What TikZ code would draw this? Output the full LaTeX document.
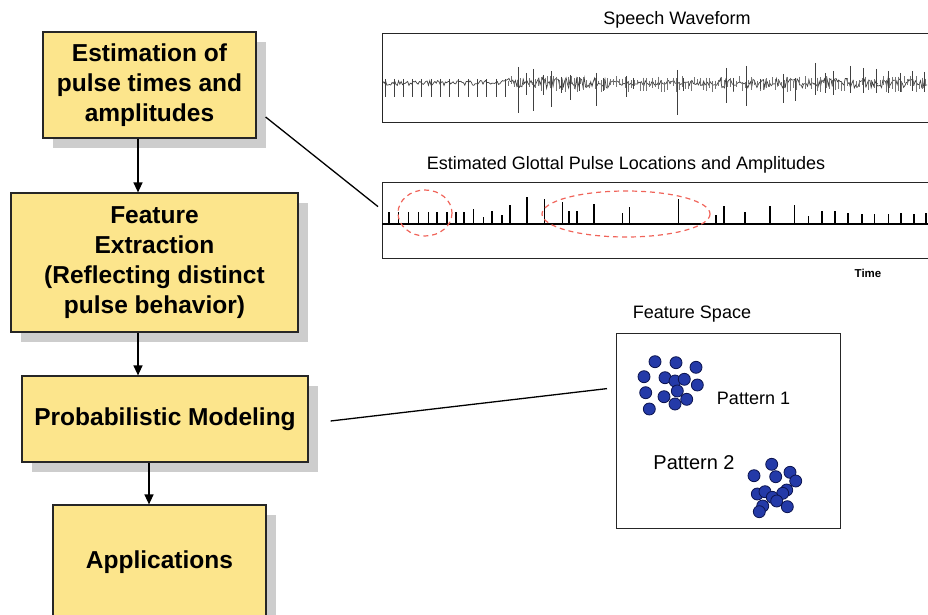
\documentclass[tikz,border=0pt]{standalone}
\usepackage{fontspec}
\setmainfont{Liberation Sans}
\usetikzlibrary{arrows.meta,shadows}

\definecolor{kastengelb}{RGB}{252,229,140}
\definecolor{schatten}{RGB}{205,205,205}
\definecolor{punktblau}{RGB}{36,58,168}
\definecolor{punktrand}{RGB}{12,20,80}
\definecolor{ovalrot}{RGB}{240,100,90}

\begin{document}
\begin{tikzpicture}[x=1pt,y=-1pt,
	kasten/.style={draw=black!85,fill=kastengelb,line width=1.2pt,align=center,inner sep=0pt,
		font=\fontsize{24.5}{30}\selectfont\bfseries,
		drop shadow={shadow xshift=10pt,shadow yshift=-10pt,fill=schatten,opacity=1}},
	rahmen/.style={draw=black!85,line width=1.2pt,inner sep=0pt},
	titel/.style={font=\fontsize{18}{20}\selectfont,inner sep=0pt},
	pfeil/.style={line width=1.3pt,-{Triangle[length=10pt,width=9pt]}},
	linie/.style={line width=1.3pt},
	welle/.style={black!75,line width=0.7pt},
	oval/.style={ovalrot,line width=1.2pt,dash pattern=on 5pt off 4pt},
	punkt/.style={fill=punktblau,draw=punktrand,line width=0.8pt}]

	\useasboundingbox (0,0) rectangle (928,615);

	%Kaesten links
	\node[kasten,minimum width=213pt,minimum height=106pt] (schaetzung) at (149.5,85) {Estimation of\\pulse times and\\amplitudes};
	\node[kasten,minimum width=287pt,minimum height=139pt] (merkmal) at (154.5,262.5) {Feature\\Extraction\\(Reflecting distinct\\pulse behavior)};
	\node[kasten,minimum width=286pt,minimum height=86pt] (modell) at (165,419) {Probabilistic Modeling};
	\node[kasten,minimum width=213pt,minimum height=115pt] (anwendung) at (159.5,562.5) {Applications};

	%Pfeile
	\draw[pfeil] ([xshift=-11.5pt]schaetzung.south) -- ([xshift=-11.5pt]schaetzung.south |- merkmal.north);
	\draw[pfeil] ([xshift=-16.5pt]merkmal.south) -- ([xshift=-16.5pt]merkmal.south |- modell.north);
	\draw[pfeil] ([xshift=-16pt]modell.south) -- ([xshift=-16pt]modell.south |- anwendung.north);

	%Sprachsignal
	\node[titel] (wellentitel) at (677,20) {Speech Waveform};
	\node[rahmen,minimum width=560pt,minimum height=89pt,anchor=north west] (welle) at (382,33) {};
	\pgfmathsetseed{42}
	\draw[welle] plot[domain=383:927,samples=420] (\x,{83+(2.5+3*(\x>505)*(\x<615)+2.5*(\x>720))*rand});
	\foreach \x in {508,511,...,925}
		\draw[black!55,line width=0.6pt] (\x,{83-7*rnd}) -- (\x,{83+9*rnd});
	\foreach \x in {385,394,403.3,412.3,421.7,431,440,449.3,458.7,468.3,477.3,486.7,496,505}
		\draw[welle] (\x,79) -- (\x,97);
	\foreach \x/\o/\u in {518.3/16/30,526.7/10/12,533.3/14/28,543.3/8/12,551.7/12/24,561.7/6/10,
		570/8/17,579/6/8,596.7/10/23,603.3/5/8,626.7/7/14,633/5/6,677.3/13/32,683.3/5/8,
		726/15/20,733.3/5/8,746.7/17/23,760/4/6,783.3/9/20,795/5/18,815/20/12,825/10/10,
		833.3/12/12,850/17/10,863.3/15/10,876.7/14/10,888.3/12/10,900/10/9,912/12/8,924/11/9}
		\draw[welle] (\x,{83-\o}) -- (\x,{83+\u});

	%Pulse
	\node[titel] (pulstitel) at (626,165) {Estimated Glottal Pulse Locations and Amplitudes};
	\node[rahmen,minimum width=560pt,minimum height=76pt,anchor=north west] (puls) at (382,182) {};
	\draw[line width=1.5pt] (382,224) -- (942,224);
	\foreach \x/\h in {389/212,398.3/212,408.3/212,418.3/212,428.3/212,436.7/212,446.7/212,456/212,
		464/212,473.3/209,483.3/217,491.7/211,501.7/215,510/205,526.7/197,544.3/199,562.3/202,
		569/211,576.7/211,594/204,622.3/213,629.3/207,678.3/199,715.7/215,724/206,745/212,770/206,
		794.3/205,808.3/216,821.7/211,835/211,847.7/213,861.7/214,874.3/214,888.3/214,901/213,914/214,926/213}
		\draw[line width=1.6pt] (\x,224) -- (\x,\h);
	\draw[oval] (425,213) ellipse [x radius=27,y radius=23];
	\draw[oval] (626,214) ellipse [x radius=84,y radius=23];
	\node[font=\fontsize{11.5}{13}\selectfont\bfseries] (zeit) at (868,273) {Time};

	%Merkmalsraum
	\node[titel] (raumtitel) at (692,314) {Feature Space};
	\node[rahmen,minimum width=224pt,minimum height=195pt,anchor=north west] (raum) at (616,333) {};
	\foreach \x/\y in {655/361.7,676/362.7,696/367.3,644/376.7,665/377.7,675/381,684.3/379.3,
		697.3/385,645.7/392.7,677.3/391,664/396.7,686.7/399.3,675/404,649.3/409}
		\filldraw[punkt] (\x,\y) circle (6);
	\foreach \x/\y in {771.7/464.3,754/475.7,775.7/476.7,790/472.3,795.7/481,786.7/490,757.3/494,
		765/491.7,782.7/493.3,772.3/497.3,776.7/501,762.7/506,787.3/506.7,759.3/511.7}
		\filldraw[punkt] (\x,\y) circle (6);
	\node[titel] (muster1) at (753.5,398) {Pattern 1};
	\node[titel,font=\fontsize{20}{22}\selectfont] (muster2) at (694,463) {Pattern 2};

	%Verbindungslinien
	\draw[linie] ([xshift=9pt,yshift=-32pt]schaetzung.east) -- ([xshift=-4pt,yshift=14pt]puls.west);
	\draw[linie] ([xshift=22pt,yshift=-2pt]modell.east) -- ([xshift=-9pt,yshift=42.5pt]raum.west);

\end{tikzpicture}
\end{document}
